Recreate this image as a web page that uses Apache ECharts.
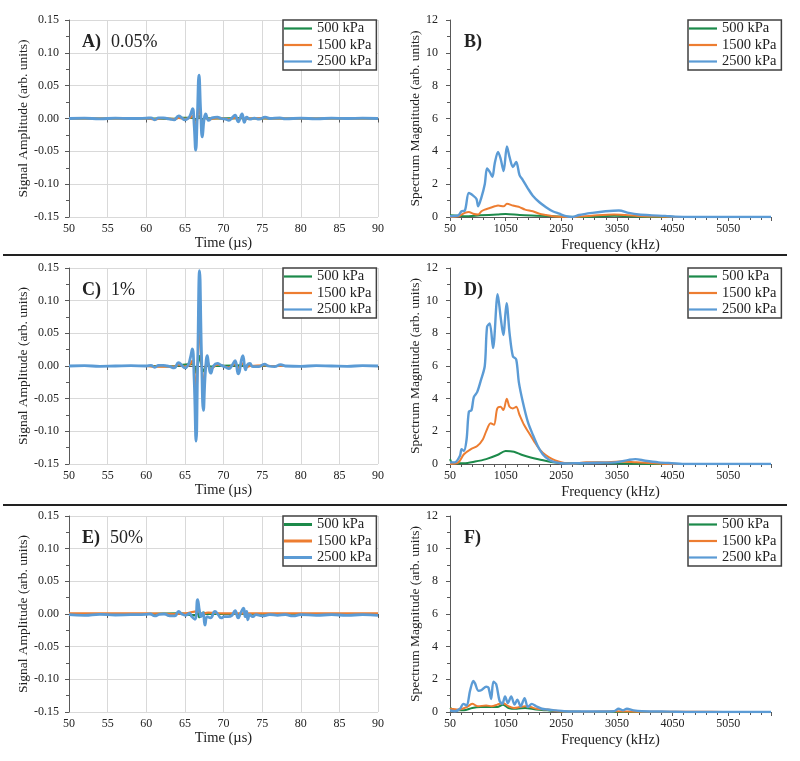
<!DOCTYPE html>
<html>
<head>
<meta charset="utf-8">
<script src="https://cdn.jsdelivr.net/npm/echarts@6/dist/echarts.min.js"></script>
<style>html,body{margin:0;padding:0;background:#fff}#c{width:800px;height:761px}</style>
</head>
<body>
<div id="c"></div>
<script>
// ---------- DATA ----------
const seriesNames = ['500 kPa', '1500 kPa', '2500 kPa'];
const timeTicks = [50, 55, 60, 65, 70, 75, 80, 85, 90];
const freqTickLabels = [50, 1050, 2050, 3050, 4050, 5050];

// Panel A (0.05%) time signals [time µs, amplitude]
const A_500 = [[50,0],[60,0],[63.6,-0.0005],[64.2,0.001],[66.0,0.001],[66.4,-0.003],[66.83,0.004],[67.25,-0.002],[67.7,0.0005],[68.5,0],[72.4,0.0005],[72.7,-0.0005],[74,0],[90,0]];
const A_1500 = [[50,0],[60,0],[61.1,-0.001],[62.2,0.0005],[63.6,-0.001],[64.2,0.001],[65.0,-0.0005],[65.7,0.001],[66.0,0.004],[66.4,-0.012],[66.6,0],[66.83,0.016],[67.05,0.002],[67.25,-0.007],[67.7,0.002],[68.1,-0.001],[69.2,0.0005],[70.7,-0.001],[71.5,0.001],[71.9,-0.001],[72.4,0.002],[72.7,-0.002],[73.2,0],[75.4,0.0005],[76,0],[90,0]];
const A_2500 = [[50,0],[52,0.0005],[54,-0.0005],[56,0.0005],[58,0],[60,0.0005],[60.6,0.001],[61.1,-0.002],[61.6,0.001],[62.2,0.001],[62.7,0],[63.1,-0.001],[63.6,-0.002],[64.2,0.004],[64.6,0.001],[65.0,-0.002],[65.4,0],[65.7,0.005],[66.0,0.015],[66.2,-0.01],[66.4,-0.048],[66.6,0],[66.83,0.066],[67.05,0.01],[67.25,-0.028],[67.5,0],[67.7,0.007],[67.9,0],[68.1,-0.003],[68.5,0.001],[69.2,0.002],[69.7,0],[70.3,-0.001],[70.7,-0.003],[71.1,0.001],[71.5,0.005],[71.9,-0.005],[72.4,0.007],[72.7,-0.006],[73.0,0.002],[73.4,-0.001],[74,0.0005],[74.6,-0.001],[75.4,0.002],[76,0],[77.3,0.001],[78,-0.0005],[80,0.0005],[82,-0.0005],[84,0.0005],[86,0],[88,0.0005],[90,0]];

// Panel B (0.05%) spectra [frequency kHz, magnitude]
const B_500 = [[50,0.1],[300,0.05],[600,0.1],[900,0.15],[1050,0.18],[1300,0.12],[1600,0.08],[2000,0.03],[2400,0],[3000,0.07],[3400,0.03],[3800,0],[5820,0]];
const B_1500 = [[50,0],[200,0.05],[318,0.25],[389,0.3],[466,0.2],[556,0.15],[615,0.35],[675,0.45],[764,0.55],[853,0.65],[913,0.7],[1014,0.65],[1073,0.8],[1180,0.7],[1240,0.65],[1300,0.6],[1400,0.45],[1538,0.35],[1657,0.2],[1776,0.12],[1895,0.05],[2014,0.02],[2252,0],[2600,0.08],[3000,0.15],[3200,0.12],[3500,0.05],[3900,0.02],[4200,0],[5820,0]];
const B_2500 = [[50,0.05],[199,0.1],[258,0.35],[318,0.4],[389,1.46],[466,1.3],[526,1.1],[556,0.65],[615,1.2],[675,2.0],[716,2.95],[764,2.75],[812,2.45],[853,3.25],[913,3.97],[960,3.55],[1014,2.8],[1073,4.3],[1121,3.65],[1180,3.05],[1240,3.35],[1300,2.55],[1359,2.25],[1448,1.75],[1538,1.3],[1657,0.9],[1776,0.6],[1895,0.35],[2014,0.2],[2133,0.05],[2252,0],[2371,0.12],[2609,0.25],[2847,0.35],[3085,0.4],[3263,0.25],[3441,0.15],[3680,0.1],[3918,0.07],[4096,0.02],[4400,0],[5820,0]];

// Panel C (1%) time signals
const C_500 = [[50,0],[60,0],[63.6,-0.0005],[64.2,0.001],[65.96,0.003],[66.45,-0.01],[66.65,0],[66.9,0.015],[67.15,0.002],[67.4,-0.008],[67.9,0.002],[68.35,-0.001],[69,0],[72.5,0.001],[73,0],[90,0]];
const C_1500 = [[50,0],[60,0],[61.1,-0.001],[63.6,-0.001],[64.2,0.002],[65.0,-0.001],[65.7,0.003],[65.96,0.008],[66.2,-0.005],[66.45,-0.04],[66.65,0],[66.9,0.065],[67.15,0.008],[67.4,-0.03],[67.65,-0.004],[67.9,0.008],[68.35,-0.005],[69.2,0.002],[70.7,-0.002],[71.5,0.003],[71.9,-0.003],[72.5,0.004],[72.85,-0.002],[73.5,0],[75.3,0.001],[76,0],[90,0]];
const C_2500 = [[50,0],[52,0.0005],[54,-0.0005],[56,0],[58,0.0005],[60,0],[60.6,0.001],[61.1,-0.002],[61.6,0.001],[62.2,0.001],[62.7,0],[63.1,-0.001],[63.6,-0.003],[64.2,0.005],[64.6,0.001],[65.0,-0.003],[65.4,0.001],[65.7,0.012],[65.96,0.026],[66.2,-0.02],[66.45,-0.115],[66.65,0],[66.9,0.146],[67.15,0.02],[67.4,-0.068],[67.65,-0.01],[67.9,0.016],[68.1,0],[68.35,-0.011],[68.7,0],[69.2,0.004],[69.7,0.001],[70.3,-0.002],[70.7,-0.004],[71.1,0.001],[71.5,0.008],[71.9,-0.012],[72.5,0.016],[72.85,-0.006],[73.1,0.002],[73.4,0.004],[73.8,-0.001],[74.6,-0.001],[75.3,0.003],[75.8,0],[76.6,-0.001],[77.4,0.002],[78,0],[80,-0.0005],[82,0.0005],[84,0],[86,-0.0005],[88,0.0005],[90,0]];

// Panel D (1%) spectra
const D_500 = [[50,0.3],[100,0.05],[300,0.05],[500,0.15],[700,0.3],[900,0.55],[1050,0.8],[1200,0.75],[1350,0.55],[1500,0.4],[1700,0.25],[1900,0.1],[2100,0.05],[2400,0.05],[2700,0.08],[3000,0.05],[3400,0.02],[3800,0],[5820,0]];
const D_1500 = [[50,0],[200,0.1],[300,0.6],[420,0.9],[540,1.1],[640,1.5],[700,2.0],[780,2.5],[840,2.4],[900,3.4],[960,3.5],[1010,3.3],[1070,4.0],[1120,3.5],[1180,3.4],[1240,3.5],[1300,3.0],[1380,2.4],[1470,1.9],[1560,1.4],[1660,0.9],[1770,0.55],[1890,0.3],[2000,0.15],[2130,0.05],[2250,0.02],[2500,0.1],[2800,0.1],[3100,0.15],[3400,0.1],[3700,0.05],[4000,0],[5820,0]];
const D_2500 = [[50,0.1],[139,0.1],[229,0.5],[258,0.9],[300,0.8],[348,1.5],[389,3.2],[437,3.3],[478,4.1],[538,4.4],[603,5.1],[675,6.0],[716,8.4],[764,8.6],[824,7.1],[907,10.4],[960,9.0],[1008,7.9],[1067,9.85],[1121,8.0],[1180,6.6],[1240,6.4],[1288,5.0],[1359,3.8],[1448,2.6],[1538,1.8],[1627,1.1],[1716,0.6],[1835,0.25],[1954,0.1],[2133,0.03],[2371,0.05],[2728,0.08],[3025,0.1],[3263,0.25],[3382,0.3],[3560,0.2],[3799,0.1],[4037,0.05],[4300,0],[5820,0]];

// Panel E (50%) time signals
const E_500 = [[50,0],[60,0],[64.2,0.001],[66.3,-0.002],[66.65,0.002],[66.9,-0.005],[67.4,0.002],[68,0],[90,0]];
const E_1500 = [[50,0.001],[60,0.001],[63.5,0],[65,0.001],[66.7,0.004],[67.2,0],[68,0.002],[70,0.001],[90,0.001]];
const E_2500 = [[50,-0.001],[52,-0.002],[54,-0.0005],[56,-0.0015],[58,-0.001],[60,-0.0005],[60.5,0],[61.1,-0.003],[61.7,-0.0005],[62.3,0],[62.8,-0.002],[63.2,-0.003],[63.7,-0.003],[64.2,0.004],[64.6,0],[65.1,-0.002],[65.6,0.001],[65.9,-0.004],[66.3,-0.008],[66.65,0.022],[66.9,0.004],[67.1,-0.004],[67.35,0.002],[67.6,-0.017],[67.9,-0.004],[68.3,-0.006],[68.9,0.004],[69.3,-0.001],[69.7,-0.006],[70.1,-0.004],[70.6,-0.004],[71.1,-0.002],[71.5,0.005],[71.9,-0.006],[72.2,0.001],[72.6,0.009],[72.8,-0.004],[73.0,0.004],[73.15,-0.009],[73.4,-0.001],[73.8,-0.004],[74.2,-0.001],[75,-0.003],[76,-0.001],[77,-0.002],[78,-0.001],[79,-0.003],[80,-0.001],[82,-0.002],[84,-0.001],[86,-0.002],[88,-0.001],[90,-0.002]];

// Panel F (50%) spectra
const F_500 = [[50,0.25],[150,0.1],[300,0.1],[450,0.25],[600,0.3],[750,0.3],[900,0.3],[1000,0.45],[1100,0.25],[1250,0.2],[1400,0.25],[1600,0.15],[1800,0.1],[2000,0.05],[2400,0.01],[3000,0],[5820,0]];
const F_1500 = [[50,0.2],[200,0.15],[350,0.3],[450,0.5],[550,0.35],[700,0.4],[800,0.35],[900,0.45],[1000,0.55],[1100,0.35],[1200,0.25],[1300,0.3],[1400,0.35],[1500,0.3],[1600,0.2],[1800,0.15],[2000,0.05],[2500,0.02],[3000,0.05],[3500,0.02],[4500,0.02],[5000,0],[5820,0]];
const F_2500 = [[50,0.1],[140,0.05],[230,0.2],[290,0.5],[350,0.4],[410,1.3],[470,1.9],[500,1.75],[560,1.3],[620,1.35],[700,1.55],[740,1.5],[790,0.8],[830,1.85],[880,1.7],[940,0.7],[990,0.5],[1040,0.95],[1090,0.55],[1150,0.95],[1210,0.45],[1260,0.75],[1320,0.35],[1390,0.85],[1450,0.3],[1520,0.5],[1600,0.35],[1700,0.2],[1800,0.15],[1950,0.1],[2100,0.05],[2500,0.03],[3000,0.05],[3080,0.2],[3160,0.1],[3230,0.2],[3350,0.1],[3500,0.05],[4000,0.02],[4400,0],[5820,0]];

const panelLabels = [['A)', '0.05%'], ['B)', ''], ['C)', '1%'], ['D)', ''], ['E)', '50%'], ['F)', '']];

// ---------- STYLE / LAYOUT ----------
const colors = ['#1c8a4a', '#ed7d31', '#5b9bd5'];
const FONT = '"Liberation Serif", "Times New Roman", serif';
const rowTops = [20, 268, 516];
const rowH = [197, 196, 196];
const F0 = 50; // frequency axis origin
const FMAX = 5820;

const grids = [], xAxes = [], yAxes = [], series = [], legends = [], titles = [];
const timeData = [[A_500, A_1500, A_2500], [C_500, C_1500, C_2500], [E_500, E_1500, E_2500]];
const specData = [[B_500, B_1500, B_2500], [D_500, D_1500, D_2500], [F_500, F_1500, F_2500]];

const axisLineStyle = { lineStyle: { color: '#595959', width: 1 } };
const labelStyle = { fontFamily: FONT, fontSize: 12, color: '#222' };
const nameStyle = { fontFamily: FONT, fontSize: 14.5, color: '#222' };

for (let r = 0; r < 3; r++) {
  // left (time) grid
  let gi = grids.length;
  grids.push({ left: 69, width: 309, top: rowTops[r], height: rowH[r] });
  xAxes.push({
    gridIndex: gi, type: 'value', min: timeTicks[0], max: timeTicks[timeTicks.length - 1], interval: 5,
    axisLine: axisLineStyle, axisTick: { show: true, length: 4, lineStyle: { color: '#595959' } },
    axisLabel: Object.assign({ margin: 6 }, labelStyle),
    splitLine: { show: true, lineStyle: { color: '#d9d9d9', width: 1 } },
    name: 'Time (µs)', nameLocation: 'middle', nameGap: 19, nameTextStyle: nameStyle
  });
  yAxes.push({
    gridIndex: gi, type: 'value', min: -0.15, max: 0.15, interval: 0.05,
    axisLine: { show: true, onZero: false, lineStyle: { color: '#595959' } },
    axisTick: { show: true, length: 4, lineStyle: { color: '#595959' } },
    minorTick: { show: true, splitNumber: 2, length: 3, lineStyle: { color: '#595959' } },
    axisLabel: Object.assign({ margin: 10, formatter: v => v.toFixed(2) }, labelStyle),
    splitLine: { show: true, lineStyle: { color: '#d9d9d9', width: 1 } },
    name: 'Signal Amplitude (arb. units)', nameLocation: 'middle', nameGap: 39,
    nameTextStyle: Object.assign({}, nameStyle, { fontSize: 13.5 })
  });
  for (let s = 0; s < 3; s++) {
    series.push({
      name: seriesNames[s], type: 'line', xAxisIndex: gi, yAxisIndex: gi,
      data: timeData[r][s], showSymbol: false, symbol: 'none', smooth: 0.5,
      lineStyle: { color: colors[s], width: s === 2 ? 2.8 : 2.2 }, itemStyle: { color: colors[s] },
      z: 2 + s, animation: false
    });
  }
  legends.push(makeLegend(283, rowTops[r], r === 2));
  titles.push(makeTitle(77, rowTops[r] + 8, panelLabels[r * 2]));

  // right (spectrum) grid
  gi = grids.length;
  grids.push({ left: 450, width: 321, top: rowTops[r], height: rowH[r] });
  xAxes.push({
    gridIndex: gi, type: 'value', min: 0, max: FMAX - F0, interval: 1000,
    axisLine: axisLineStyle, axisTick: { show: true, length: 4, lineStyle: { color: '#595959' } },
    minorTick: { show: true, splitNumber: 5, length: 3, lineStyle: { color: '#595959' } },
    axisLabel: Object.assign({ margin: 6, showMaxLabel: false, formatter: v => String(v + F0) }, labelStyle),
    splitLine: { show: false },
    name: 'Frequency (kHz)', nameLocation: 'middle', nameGap: 21, nameTextStyle: nameStyle
  });
  yAxes.push({
    gridIndex: gi, type: 'value', min: 0, max: 12, interval: 2,
    axisLine: { show: true, lineStyle: { color: '#595959' } },
    axisTick: { show: true, length: 4, lineStyle: { color: '#595959' } },
    minorTick: { show: true, splitNumber: 2, length: 3, lineStyle: { color: '#595959' } },
    axisLabel: Object.assign({ margin: 12 }, labelStyle),
    splitLine: { show: false },
    name: 'Spectrum Magnitude (arb. units)', nameLocation: 'middle', nameGap: 26,
    nameTextStyle: Object.assign({}, nameStyle, { fontSize: 13.5 })
  });
  for (let s = 0; s < 3; s++) {
    series.push({
      name: seriesNames[s], type: 'line', xAxisIndex: gi, yAxisIndex: gi,
      data: specData[r][s].map(p => [p[0] - F0, p[1]]), showSymbol: false, symbol: 'none', smooth: 0.3,
      lineStyle: { color: colors[s], width: s === 2 ? 2.4 : 2 }, itemStyle: { color: colors[s] },
      z: 2 + s, animation: false
    });
  }
  legends.push(makeLegend(688, rowTops[r], false));
  titles.push(makeTitle(459, rowTops[r] + 8, panelLabels[r * 2 + 1]));
}

function makeLegend(left, top, bold) {
  return {
    orient: 'vertical', left: left, top: top, data: seriesNames,
    icon: 'rect', itemWidth: 28, itemHeight: bold ? 3 : 2.2, itemGap: 1.5,
    padding: [1, 5, 1, 1], backgroundColor: '#fff',
    borderColor: '#404040', borderWidth: 1.5,
    textStyle: { fontFamily: FONT, fontSize: 14.5, color: '#222' },
    selectedMode: false
  };
}
function makeTitle(left, top, lab) {
  return {
    left: left, top: top,
    text: '{b|' + lab[0] + '}' + (lab[1] ? '  {n|' + lab[1] + '}' : ''),
    textStyle: {
      fontWeight: 'normal',
      rich: {
        b: { fontFamily: FONT, fontSize: 18, fontWeight: 'bold', color: '#222' },
        n: { fontFamily: FONT, fontSize: 18, fontWeight: 'normal', color: '#222' }
      }
    }
  };
}

const chart = echarts.init(document.getElementById('c'), null, { renderer: 'canvas' });
chart.setOption({
  animation: false,
  backgroundColor: '#fff',
  title: titles,
  legend: legends,
  grid: grids,
  xAxis: xAxes,
  yAxis: yAxes,
  series: series,
  graphic: [
    { type: 'line', shape: { x1: 3, y1: 255, x2: 787, y2: 255 }, style: { stroke: '#222', lineWidth: 2 } },
    { type: 'line', shape: { x1: 3, y1: 505, x2: 787, y2: 505 }, style: { stroke: '#222', lineWidth: 2 } }
  ]
});
</script>
</body>
</html>
